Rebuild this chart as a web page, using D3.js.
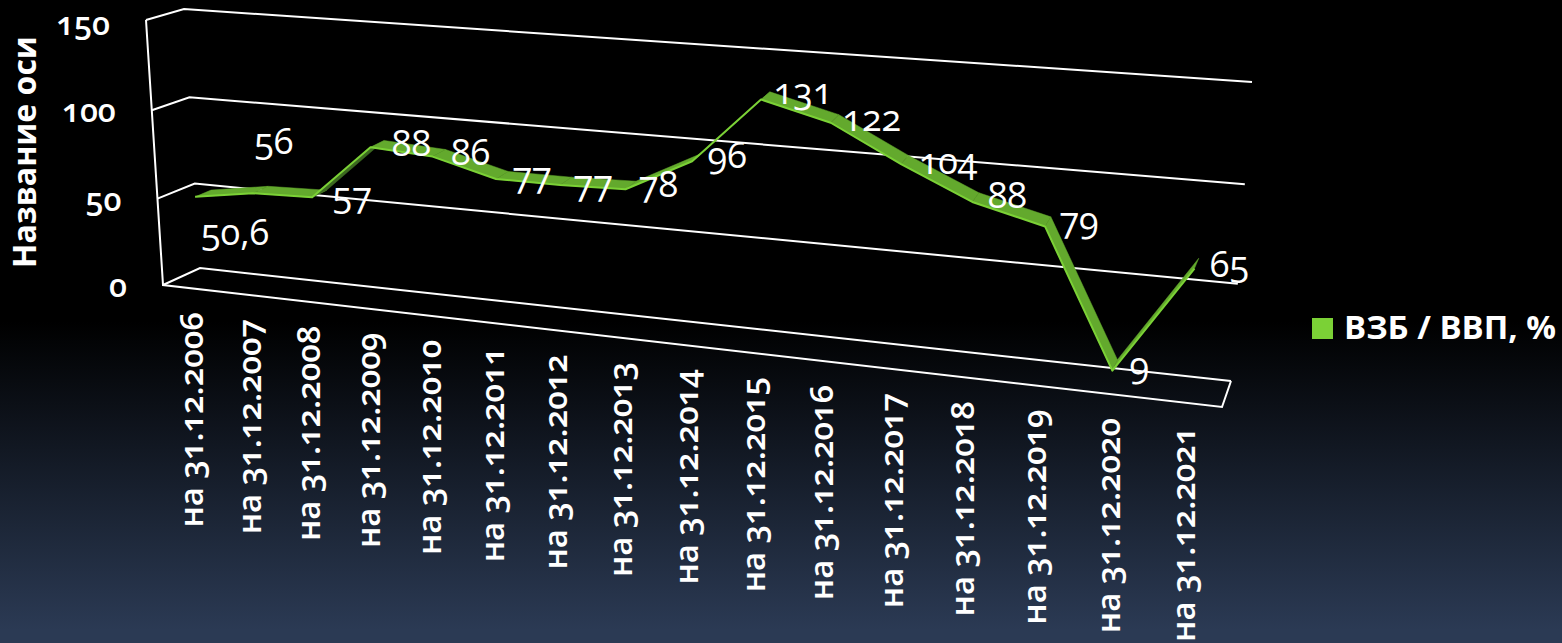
<!DOCTYPE html>
<html>
<head>
<meta charset="utf-8">
<script src="https://cdn.jsdelivr.net/npm/d3@7/dist/d3.min.js"></script>
<style>
    html, body { margin: 0; padding: 0; background: #000; }
    svg { display: block; }
    text { font-family: "Open Sans", sans-serif; font-variant-numeric: oldstyle-nums; fill: #fff; }
</style>
</head>
<body>
<script>
// Данные
const years = ["на 31.12.2006", "на 31.12.2007", "на 31.12.2008", "на 31.12.2009", "на 31.12.2010", "на 31.12.2011",
    "на 31.12.2012", "на 31.12.2013", "на 31.12.2014", "на 31.12.2015", "на 31.12.2016", "на 31.12.2017",
    "на 31.12.2018", "на 31.12.2019", "на 31.12.2020", "на 31.12.2021"];
const values = [50.6, 56, 57, 88, 86, 77, 77, 78, 96, 131, 122, 104, 88, 79, 9, 65];
const valueLabels = ["50,6", "56", "57", "88", "86", "77", "77", "78", "96", "131", "122", "104", "88", "79", "9", "65"];
const yTicks = [0, 50, 100, 150];
const seriesName = "ВЗБ / ВВП, %";
const axisName = "Название оси";

const width = 1562, height = 643;

// Углы 3D-коробки на экране
const backWall = [[200, 268], [1231, 381], [1252, 82], [184, 9]];
const frontWall = [[163, 285], [1222, 407], [1243, 103], [146, 20]];

// Перспектива: единичный квадрат -> четырехугольник
function quadMap(q) {
    let [x0, y0] = q[0], [x1, y1] = q[1], [x2, y2] = q[2], [x3, y3] = q[3];
    let dx1 = x1 - x2, dx2 = x3 - x2, sx = x0 - x1 + x2 - x3;
    let dy1 = y1 - y2, dy2 = y3 - y2, sy = y0 - y1 + y2 - y3;
    let det = dx1 * dy2 - dx2 * dy1;
    let g = (sx * dy2 - dx2 * sy) / det, h = (dx1 * sy - sx * dy1) / det;
    let a = x1 - x0 + g * x1, b = x3 - x0 + h * x3;
    let d = y1 - y0 + g * y1, e = y3 - y0 + h * y3;
    return (u, v) => {
        let k = g * u + h * v + 1;
        return [(a * u + b * v + x0) / k, (d * u + e * v + y0) / k];
    };
}
const back = quadMap(backWall), front = quadMap(frontWall);

// Шкалы
const x = d3.scaleBand().domain(years).range([0, 1]);
const y = d3.scaleLinear().domain([0, 150]).range([0, 1]);
const xMid = d => x(d) + x.bandwidth() / 2;

// Точка в коробке: u - вдоль оси X, v - по значению, w - глубина (0 спереди, 1 сзади)
function project(u, v, w) {
    let f = front(u, v), b = back(u, v);
    return [f[0] + (b[0] - f[0]) * w, f[1] + (b[1] - f[1]) * w];
}

const svg = d3.select("body").append("svg").attr("width", width).attr("height", height);

const grad = svg.append("defs").append("linearGradient")
    .attr("id", "bg").attr("x1", 0).attr("y1", 0).attr("x2", 0).attr("y2", 1);
grad.append("stop").attr("offset", "0.5").attr("stop-color", "#000");
grad.append("stop").attr("offset", "0.98").attr("stop-color", "#2b3a54");
svg.append("rect").attr("width", width).attr("height", height).attr("fill", "url(#bg)");

const line = d3.line();

// Сетка
const grid = svg.append("g").attr("fill", "none").attr("stroke", "#fff").attr("stroke-width", 2);
grid.selectAll(".wall")
    .data(yTicks)
    .join("path")
    .attr("class", "wall")
    .attr("d", d => line([project(0, y(d), 0), project(0, y(d), 1), project(1, y(d), 1)]));
grid.append("path").attr("d", line([project(0, y(150), 0), project(0, y(0), 0), project(1, y(0), 0), project(1, y(0), 1)]));

// Лента ряда
const frontEdge = 0.24, backEdge = 0.68;
const pts = years.map((d, i) => ({
    f: project(xMid(d), y(values[i]), frontEdge),
    b: project(xMid(d), y(values[i]), backEdge)
}));
const ribbon = svg.append("g");
const segments = d3.pairs(pts);
const faceColor = ([p, q]) => d3.polygonArea([p.f, q.f, q.b, p.b]) > 0 ? "#63a92d" : "#3c6a20";
ribbon.selectAll(".face")
    .data(segments)
    .join("path")
    .attr("class", "face")
    .attr("d", ([p, q]) => line([p.f, q.f, q.b, p.b]) + "Z")
    .attr("fill", faceColor)
    .attr("stroke", faceColor)
    .attr("stroke-width", 0.5);
ribbon.append("path")
    .attr("d", line(pts.map(d => d.f)))
    .attr("fill", "none")
    .attr("stroke", "#7bd136")
    .attr("stroke-width", 2)
    .attr("stroke-linejoin", "round");

// Подписи значений (ручные смещения, как на слайде)
const labelNudge = [[40, 48], [21, -39], [40, 11], [41, 9], [38, 8], [36, 9], [33, 11], [33, 8], [35, 7], [42, 5], [41, 8], [47, 10], [35, 6], [34, 7], [27, 7], [35, 8]];
svg.append("g").selectAll("text")
    .data(valueLabels)
    .join("text")
    .attr("x", (d, i) => pts[i].f[0] + labelNudge[i][0])
    .attr("y", (d, i) => pts[i].f[1] + labelNudge[i][1])
    .attr("text-anchor", "middle")
    .attr("font-size", 36)
    .text(d => d);

// Подписи категорий
svg.append("g").selectAll("text")
    .data(years)
    .join("text")
    .attr("transform", d => {
        let p = project(xMid(d), 0, 0);
        return "translate(" + (p[0] + 11) + "," + (p[1] + 24) + ") rotate(-90)";
    })
    .attr("text-anchor", "end")
    .attr("font-size", 33)
    .attr("font-weight", 600)
    .text(d => d);

// Подписи оси Y
svg.append("g").selectAll("text")
    .data(yTicks)
    .join("text")
    .attr("x", d => project(0, y(d), 0)[0] - 36)
    .attr("y", d => project(0, y(d), 0)[1] + (d === 150 ? 15 : 12))
    .attr("text-anchor", "end")
    .attr("font-size", 32)
    .attr("font-weight", 600)
    .text(d => d);

svg.append("text")
    .attr("transform", "translate(36,152) rotate(-90)")
    .attr("text-anchor", "middle")
    .attr("font-size", 32)
    .attr("font-weight", 700)
    .text(axisName);

// Легенда
svg.append("rect").attr("x", 1312).attr("y", 318).attr("width", 21).attr("height", 21).attr("fill", "#7bd136");
svg.append("text")
    .attr("x", 1344).attr("y", 339)
    .attr("font-size", 33)
    .attr("font-weight", 700)
    .text(seriesName);
</script>
</body>
</html>
